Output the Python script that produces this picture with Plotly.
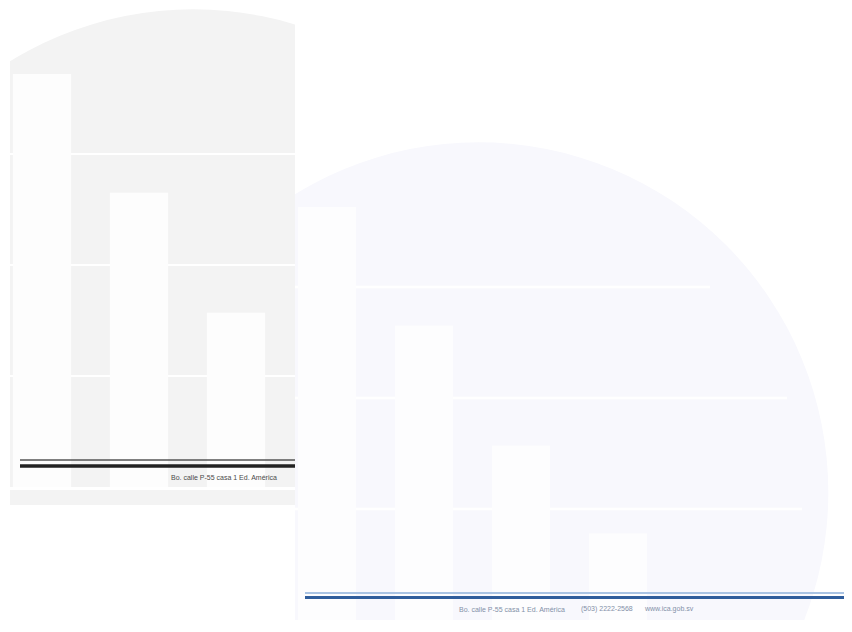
import plotly.graph_objects as go

# ---- data ----
categories = ["A", "B", "C", "D"]
values = [3.72, 2.65, 1.57, 0.78]
grid_vals = [1, 2, 3]
address = "Bo. calle P-55 casa 1 Ed. América"
phone = "(503) 2222-2568"
web = "www.ica.gob.sv"

OFF = 8            # browser body margin
W, H = 852 - OFF, 632 - OFF
STEP = 97.0        # px per category
UNIT = 111.0       # px per value unit


def px_x(p):
    return (p - OFF) / W


def px_y(p):
    return 1 - (p - OFF) / H


fig = go.Figure()

fig.add_trace(go.Bar(x=categories, y=values, marker=dict(color="#fdfdfd", line=dict(width=0)),
                     xaxis="x", yaxis="y", hoverinfo="skip", showlegend=False))
fig.add_trace(go.Bar(x=categories, y=values, marker=dict(color="#fdfdfe", line=dict(width=0)),
                     xaxis="x2", yaxis="y2", hoverinfo="skip", showlegend=False))

ax_common = dict(showticklabels=False, ticks="", showline=False, zeroline=False, fixedrange=True)

# left page axes (reference pixel geometry)
lx0, lx1, lbase = 10, 295, 487
lc0 = 42
fig.update_layout(
    xaxis=dict(domain=[px_x(lx0), px_x(lx1)], range=[(lx0 - lc0) / STEP, (lx1 - lc0) / STEP],
               showgrid=False, anchor="y", **ax_common),
    yaxis=dict(domain=[px_y(lbase), 1], range=[0, (lbase - OFF) / UNIT], showgrid=True,
               gridcolor="#ffffff", gridwidth=2, tickvals=grid_vals, anchor="x", **ax_common),
)

# right page axes
rx0, rx1, rbase = 295, 852, 620
rc0 = 327
fig.update_layout(
    xaxis2=dict(domain=[px_x(rx0), 1], range=[(rx0 - rc0) / STEP, (rx1 - rc0) / STEP],
                showgrid=False, anchor="y2", **ax_common),
    yaxis2=dict(domain=[px_y(rbase), 1], range=[0, (rbase - OFF) / UNIT], showgrid=False,
                anchor="x2", **ax_common),
)

cx, cy, rx, ry = 1.56, 1.15, 350 / STEP, 350 / UNIT
shapes = [
    dict(type="circle", xref="x", yref="y", x0=cx - rx, x1=cx + rx, y0=cy - ry, y1=cy + ry,
         fillcolor="#f3f3f3", line=dict(width=0), layer="below"),
    dict(type="circle", xref="x2", yref="y2", x0=cx - rx, x1=cx + rx, y0=cy - ry, y1=cy + ry,
         fillcolor="#f8f8fd", line=dict(width=0), layer="below"),
    dict(type="rect", xref="paper", yref="paper", x0=px_x(10), x1=px_x(295), y0=px_y(505), y1=px_y(490),
         fillcolor="#f3f3f3", line=dict(width=0), layer="below"),
    dict(type="line", xref="paper", yref="paper", x0=px_x(20), x1=px_x(295), y0=px_y(460), y1=px_y(460),
         line=dict(color="#555555", width=1.5)),
    dict(type="line", xref="paper", yref="paper", x0=px_x(20), x1=px_x(295), y0=px_y(466), y1=px_y(466),
         line=dict(color="#222222", width=3.5)),
    dict(type="line", xref="paper", yref="paper", x0=px_x(305), x1=1, y0=px_y(593), y1=px_y(593),
         line=dict(color="#a9c3e3", width=2)),
    dict(type="line", xref="paper", yref="paper", x0=px_x(305), x1=1, y0=px_y(597.5), y1=px_y(597.5),
         line=dict(color="#2f5d9c", width=3)),
]

# right page grid lines end short of the dome edge (bottom to top)
grid_ends_px = [802, 787, 710]
for gv, end in zip(grid_vals, grid_ends_px):
    shapes.append(dict(type="line", xref="x2", yref="y2", x0=-0.33, x1=(end - rc0) / STEP,
                       y0=gv, y1=gv, line=dict(color="#ffffff", width=2.5), layer="between"))

font_l = dict(family="Liberation Sans, Arial, sans-serif", size=7, color="#4a4a4a")
font_r = dict(family="Liberation Sans, Arial, sans-serif", size=7, color="#8390a8")
annotations = [
    dict(text=address, xref="paper", yref="paper", x=px_x(224), y=px_y(477), showarrow=False,
         font=font_l, xanchor="center", yanchor="middle"),
    dict(text=address, xref="paper", yref="paper", x=px_x(512), y=px_y(609), showarrow=False,
         font=font_r, xanchor="center", yanchor="middle"),
    dict(text=phone, xref="paper", yref="paper", x=px_x(607), y=px_y(609), showarrow=False,
         font=font_r, xanchor="center", yanchor="middle"),
    dict(text=web, xref="paper", yref="paper", x=px_x(669), y=px_y(609), showarrow=False,
         font=font_r, xanchor="center", yanchor="middle"),
]

fig.update_layout(
    width=W, height=H, margin=dict(l=0, r=0, t=0, b=0),
    paper_bgcolor="#ffffff", plot_bgcolor="rgba(0,0,0,0)",
    bargap=0.4, showlegend=False, shapes=shapes, annotations=annotations,
)

fig.write_html("out.html", config={"displayModeBar": False})
